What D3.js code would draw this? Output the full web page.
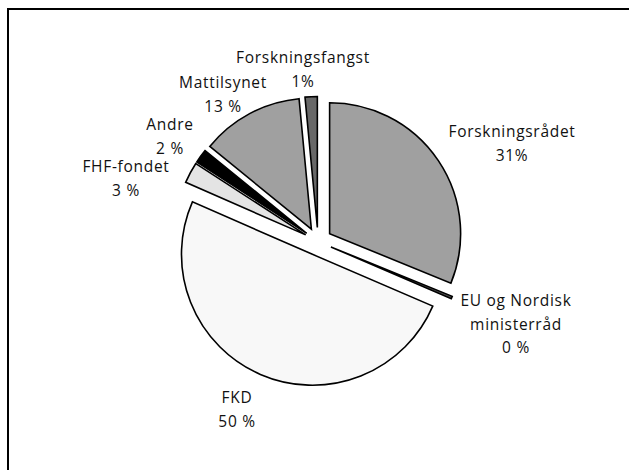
<!DOCTYPE html>
<html>
<head>
<meta charset="utf-8">
<title>Fordeling av finansiering</title>
<script src="https://cdn.jsdelivr.net/npm/d3@7"></script>
<style>
  body { margin: 0; background: #fff; overflow: hidden; }
  svg { display: block; }
  text { font-family: "Open Sans", sans-serif; font-size: 15.5px; letter-spacing: 0.7px; fill: #111; }
</style>
</head>
<body>
<div id="chart"></div>
<script>
var width = 629, height = 470;

// clockwise from 12 o'clock
var categories = ["Forskningsrådet", "EU og Nordisk ministerråd", "FKD", "FHF-fondet", "Andre", "Mattilsynet", "Forskningsfangst"];
var shares = [31.1, 0.3, 50.0, 2.6, 1.7, 12.6, 1.5];
var pctLabels = ["31%", "0 %", "50 %", "3 %", "2 %", "13 %", "1%"];
// name lines as printed on the chart
var nameLines = [["Forskningsrådet"], ["EU og Nordisk", "ministerråd"], ["FKD"], ["FHF-fondet"], ["Andre"], ["Mattilsynet"], ["Forskningsfangst"]];

var fills = ["#a0a0a0", "#505050", "#f8f8f8", "#e4e4e4", "#000000", "#a0a0a0", "#686868"];

// label anchor (centre x, first baseline) for each slice
var labelPos = [[512, 137], [516, 306], [237, 403], [126, 172], [170, 130], [223, 88], [303, 63]];

var cx = 318, cy = 241.5, radius = 131, explode = 14, lineH = 23.5;

var svg = d3.select("#chart").append("svg")
  .attr("width", width)
  .attr("height", height);

// frame (top + left only visible)
svg.append("line").attr("x1", 8).attr("y1", 9).attr("x2", width).attr("y2", 9)
  .attr("stroke", "#000").attr("stroke-width", 2);
svg.append("line").attr("x1", 8).attr("y1", 8).attr("x2", 8).attr("y2", height)
  .attr("stroke", "#000").attr("stroke-width", 2);

var pie = d3.pie().sort(null).value(function(d) { return d; });
var arc = d3.arc().innerRadius(0).outerRadius(radius);
var arcs = pie(shares);

var g = svg.append("g").attr("transform", "translate(" + cx + "," + cy + ")");

g.selectAll("path")
  .data(arcs)
  .enter()
  .append("path")
  .attr("d", arc)
  .attr("transform", function(d) {
    var a = (d.startAngle + d.endAngle) / 2;
    return "translate(" + (Math.sin(a) * explode) + "," + (-Math.cos(a) * explode) + ")";
  })
  .attr("fill", function(d, i) { return fills[i]; })
  .attr("stroke", "#000")
  .attr("stroke-width", 1.6)
  .attr("stroke-linejoin", "miter");

// labels
var labels = svg.selectAll("text.lbl")
  .data(categories)
  .enter()
  .append("text")
  .attr("class", "lbl")
  .attr("text-anchor", "middle");

labels.each(function(d, i) {
  var t = d3.select(this);
  var lines = nameLines[i].concat([pctLabels[i]]);
  lines.forEach(function(s, k) {
    t.append("tspan")
      .attr("x", labelPos[i][0])
      .attr("y", labelPos[i][1] + k * lineH)
      .text(s);
  });
});
</script>
</body>
</html>
